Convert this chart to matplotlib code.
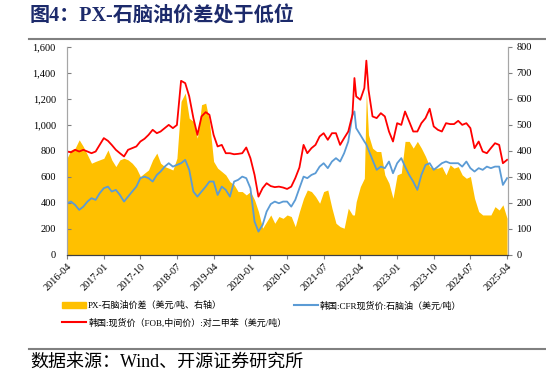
import pandas as pd
import matplotlib
matplotlib.use('Agg')
import matplotlib.pyplot as plt
import matplotlib.dates as mdates
from matplotlib.lines import Line2D
from matplotlib.patches import Patch
from matplotlib.ticker import FuncFormatter

# monthly readings, 2016-04 .. 2025-04
px_fob = [796, 790, 809, 796, 809, 796, 783, 796, 847, 899, 878, 847,
          809, 783, 758, 809, 822, 835, 873, 894, 924, 963, 937, 950,
          976, 1001, 976, 1000, 1340, 1322, 1220, 1053, 924, 1066, 1099, 1078,
          924, 835, 847, 783, 783, 775, 778, 783, 827, 745, 616, 449,
          514, 552, 530, 522, 526, 519, 508, 526, 591, 673, 847, 783,
          822, 847, 912, 937, 886, 937, 937, 847, 899, 950, 1079, 1220,
          1194, 1284, 1271, 1066, 1053, 1091, 1066, 950, 873, 1014, 1001, 1104,
          1027, 950, 950, 1014, 1053, 1125, 989, 963, 950, 1014, 1007, 1007,
          1032, 1001, 1014, 976, 822, 873, 796, 783, 822, 860, 847, 706,
          732]
naphtha_cfr = [398, 411, 385, 347, 372, 411, 437, 424, 475, 514, 526, 488,
               501, 462, 411, 449, 488, 526, 591, 603, 591, 565, 616, 642,
               680, 706, 680, 693, 706, 732, 655, 488, 449, 488, 526, 565,
               565, 462, 526, 501, 449, 565, 578, 603, 591, 514, 257, 180,
               231, 334, 392, 411, 398, 411, 411, 372, 424, 514, 603, 591,
               616, 629, 680, 706, 668, 719, 745, 719, 783, 873, 1079, 976,
               924, 873, 809, 732, 655, 680, 668, 719, 629, 706, 745, 680,
               616, 565, 501, 616, 693, 706, 655, 680, 706, 719, 706, 706,
               706, 680, 719, 668, 642, 668, 655, 680, 668, 680, 680, 539,
               591]
spread = [372, 404, 411, 443, 417, 385, 353, 360, 366, 372, 404, 366,
          340, 366, 372, 366, 353, 334, 302, 315, 327, 366, 392, 353,
          340, 334, 327, 372, 591, 623, 526, 514, 449, 578, 584, 514,
          360, 334, 321, 308, 282, 270, 244, 244, 231, 244, 212, 167,
          103, 128, 154, 122, 148, 141, 154, 148, 109, 167, 218, 250,
          244, 225, 199, 244, 250, 180, 122, 109, 103, 180, 154, 205,
          263, 295, 462, 411, 398, 398, 308, 276, 218, 308, 315, 437,
          437, 411, 437, 411, 379, 340, 334, 334, 340, 308, 347, 334,
          340, 308, 295, 302, 218, 167, 154, 154, 154, 186, 173, 193,
          141]

# the two 2022 spikes fall between month points
spike_dates = ['2022-02-16', '2022-05-16']
spike_px = [1361, 1495]
spike_naphtha = [1104, 850]
spike_spread = [154, 629]

months = pd.date_range('2016-04-01', '2025-04-01', freq='MS')
df = pd.DataFrame({'px': px_fob, 'nap': naphtha_cfr, 'spread': spread}, index=months)
spikes = pd.DataFrame({'px': spike_px, 'nap': spike_naphtha, 'spread': spike_spread},
                      index=pd.to_datetime(spike_dates))
df = pd.concat([df, spikes]).sort_index()

label_spread = 'PX-石脑油价差（美元/吨、右轴）'
label_nap = '韩国:CFR现货价:石脑油（美元/吨）'
label_px = '韩国:现货价（FOB,中间价）:对二甲苯（美元/吨）'

FONT = ['Liberation Serif', 'Noto Sans CJK SC']
plt.rcParams['font.family'] = FONT

W, H = 546, 374
fig = plt.figure(figsize=(W / 100, H / 100), dpi=100)
ax = fig.add_axes([67 / W, 1 - 255 / H, 441 / W, 208 / H])
ax2 = ax.twinx()

ax2.fill_between(df.index, df['spread'], 0, color='#FFC000', lw=0)
ax.plot(df.index, df['nap'], color='#5B9BD5', lw=1.3)
ax.plot(df.index, df['px'], color='#FF0000', lw=1.3)
ax.set_zorder(ax2.get_zorder() + 1)
ax.patch.set_visible(False)

ax.set_ylim(0, 1600)
ax2.set_ylim(0, 800)
ax.set_yticks(range(0, 1601, 200))
ax2.set_yticks(range(0, 801, 100))
ax.yaxis.set_major_formatter(FuncFormatter(lambda v, p: f'{int(v):,}'))

ticks = pd.date_range('2016-04-01', '2025-04-01', freq='9MS')
ax.set_xlim(pd.Timestamp('2016-04-01'), pd.Timestamp('2025-04-08'))
ax.set_xticks(ticks)
ax.xaxis.set_major_formatter(mdates.DateFormatter('%Y-%m'))
for lab in ax.get_xticklabels():
    lab.set_rotation(45)
    lab.set_ha('right')
    lab.set_rotation_mode('anchor')

for a in (ax, ax2):
    a.spines['top'].set_visible(False)
    a.spines['left'].set_color('#A6A6A6')
    a.spines['right'].set_color('#A6A6A6')
    a.spines['bottom'].set_color('#404040')
    a.tick_params(labelsize=7.5, length=3, width=0.8, color='#808080')
ax.tick_params(axis='y', direction='in', pad=8)
ax2.tick_params(axis='y', direction='out', pad=3)
ax.tick_params(axis='x', direction='out', pad=2)

handles = [Patch(color='#FFC000'),
           Line2D([], [], color='#FF0000', lw=1.5),
           Line2D([], [], color='#5B9BD5', lw=1.5)]
fig.legend(handles, [label_spread, label_px, label_nap], ncol=2,
           loc='upper left', bbox_to_anchor=(62 / W, 1 - 301 / H),
           frameon=False, fontsize=6.5, handlelength=2.7, handleheight=0.6,
           handletextpad=0.2, columnspacing=0.8, labelspacing=0.85,
           borderpad=0, borderaxespad=0)

fig.text(30 / W, 1 - 16 / H, '图4：PX-石脑油价差处于低位', fontsize=14.5,
         fontweight='bold', color='#1C2A6B', va='center', ha='left')
fig.add_artist(Line2D([29 / W, 1], [1 - 39 / H] * 2, color='#808080', lw=1.5))
fig.add_artist(Line2D([29 / W, 1], [1 - 349 / H] * 2, color='#808080', lw=1.5))
fig.text(30 / W, 1 - 362 / H, '数据来源：Wind、开源证券研究所', fontsize=13,
         color='black', va='center', ha='left')

fig.savefig('out.png', dpi=100)
